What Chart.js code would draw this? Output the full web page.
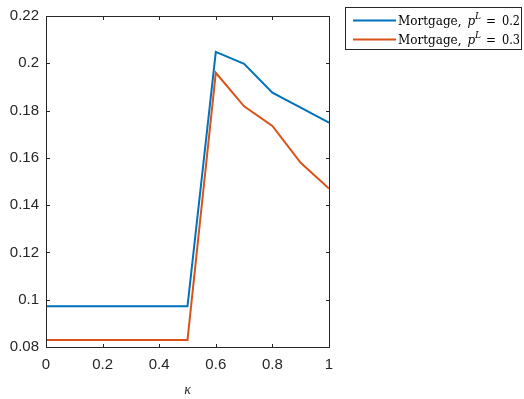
<!DOCTYPE html>
<html><head><meta charset="utf-8">
<style>html,body{margin:0;padding:0;background:#fff;}#wrap{width:524px;height:399px;position:relative;}</style>
<script src="https://cdn.jsdelivr.net/npm/chart.js@4/dist/chart.umd.min.js"></script>
</head><body><div id="wrap"><canvas id="c" width="524" height="399"></canvas></div>
<script>
const kappa = [0, 0.1, 0.2, 0.3, 0.4, 0.5, 0.6, 0.7, 0.8, 0.9, 1.0];
const mortgage02 = [0.0972, 0.0972, 0.0972, 0.0972, 0.0972, 0.0972, 0.2048, 0.1998, 0.1876, 0.1812, 0.1749];
const mortgage03 = [0.0830, 0.0830, 0.0830, 0.0830, 0.0830, 0.0830, 0.1960, 0.1818, 0.1735, 0.1579, 0.1470];
const seriesNames = ['Mortgage, p^L = 0.2', 'Mortgage, p^L = 0.3'];
const xTickValues = [0, 0.2, 0.4, 0.6, 0.8, 1];
const xTickLabels = ['0', '0.2', '0.4', '0.6', '0.8', '1'];
const yTickValues = [0.08, 0.10, 0.12, 0.14, 0.16, 0.18, 0.20, 0.22];
const yTickLabels = ['0.08', '0.1', '0.12', '0.14', '0.16', '0.18', '0.2', '0.22'];
const colors = ['#0072BD', '#D95319'];
const AX = '#262626';

const boxPlugin = {
  id: 'boxPlugin',
  afterDraw(chart) {
    const ctx = chart.ctx, a = chart.chartArea, xs = chart.scales.x, ys = chart.scales.y;
    ctx.save();
    ctx.strokeStyle = AX; ctx.lineWidth = 1;
    const L = Math.round(a.left) + 0.5, R = Math.round(a.right) + 0.5, T = Math.round(a.top) + 0.5, B = Math.round(a.bottom) + 0.5;
    ctx.beginPath();
    ctx.rect(L, T, R - L, B - T);
    const tl = 3.5;
    xTickValues.forEach(v => {
      const px = Math.round(xs.getPixelForValue(v)) + 0.5;
      ctx.moveTo(px, B); ctx.lineTo(px, B - tl);
      ctx.moveTo(px, T); ctx.lineTo(px, T + tl);
    });
    yTickValues.forEach(v => {
      const py = Math.round(ys.getPixelForValue(v)) + 0.5;
      ctx.moveTo(L, py); ctx.lineTo(L + tl, py);
      ctx.moveTo(R, py); ctx.lineTo(R - tl, py);
    });
    ctx.stroke();

    // legend
    const lx = 345.5, ly = 7.5, lw = 176, lh = 42;
    ctx.fillStyle = '#fff';
    ctx.fillRect(lx, ly, lw, lh);
    ctx.strokeStyle = '#262626';
    ctx.strokeRect(lx, ly, lw, lh);
    const rows = [20.5, 39.5];
    const SERIF = '"DejaVu Serif", "Liberation Serif", serif';
    seriesNames.forEach((name, i) => {
      const y = rows[i];
      ctx.strokeStyle = colors[i]; ctx.lineWidth = 2;
      ctx.beginPath(); ctx.moveTo(353, y); ctx.lineTo(396, y); ctx.stroke();
      const m = name.match(/^(.*?)p\^L = (.*)$/);
      ctx.fillStyle = '#000';
      ctx.textBaseline = 'alphabetic';
      const base = y + 4.5;
      ctx.font = '12px ' + SERIF;
      ctx.fillText(m[1].trim(), 398, base, 65);
      ctx.font = 'italic 12px ' + SERIF;
      ctx.fillText('p', 467.5, base);
      ctx.font = 'italic 9px ' + SERIF;
      ctx.fillText('L', 475, base - 6);
      ctx.font = '12px ' + SERIF;
      ctx.fillText('=', 486, base);
      ctx.fillText(m[2], 502, base, 18);
    });
    ctx.restore();
  }
};

new Chart(document.getElementById('c'), {
  type: 'line',
  data: {
    datasets: [
      { label: seriesNames[0], data: kappa.map((k, i) => ({x: k, y: mortgage02[i]})), borderColor: colors[0], borderWidth: 2, pointRadius: 0, tension: 0, fill: false },
      { label: seriesNames[1], data: kappa.map((k, i) => ({x: k, y: mortgage03[i]})), borderColor: colors[1], borderWidth: 2, pointRadius: 0, tension: 0, fill: false }
    ]
  },
  options: {
    responsive: false, animation: false, devicePixelRatio: 1,
    layout: { padding: { top: 9, right: 195, left: 0, bottom: 0 } },
    plugins: { legend: { display: false }, tooltip: { enabled: false } },
    scales: {
      x: {
        type: 'linear', min: 0, max: 1,
        grid: { display: false, drawTicks: false },
        border: { display: false },
        afterBuildTicks: s => { s.ticks = xTickValues.map(v => ({value: v})); },
        ticks: { color: AX, font: { family: '"Liberation Sans", Arial, sans-serif', size: 15 }, padding: 9, maxRotation: 0, autoSkip: false,
          callback: (v, i) => xTickLabels[i] },
        title: { display: true, text: 'κ', color: AX, font: { family: '"Liberation Serif", serif', style: 'italic', size: 14 }, padding: { top: 10, bottom: 0 } },
        afterFit: s => { s.height = 52; }
      },
      y: {
        type: 'linear', min: 0.08, max: 0.22,
        grid: { display: false, drawTicks: false },
        border: { display: false },
        afterBuildTicks: s => { s.ticks = yTickValues.map(v => ({value: v})); },
        ticks: { color: AX, font: { family: '"Liberation Sans", Arial, sans-serif', size: 15 }, padding: 7, autoSkip: false,
          callback: (v, i) => yTickLabels[i] },
        afterFit: s => { s.width = 46; }
      }
    }
  },
  plugins: [boxPlugin]
});
</script></body></html>
